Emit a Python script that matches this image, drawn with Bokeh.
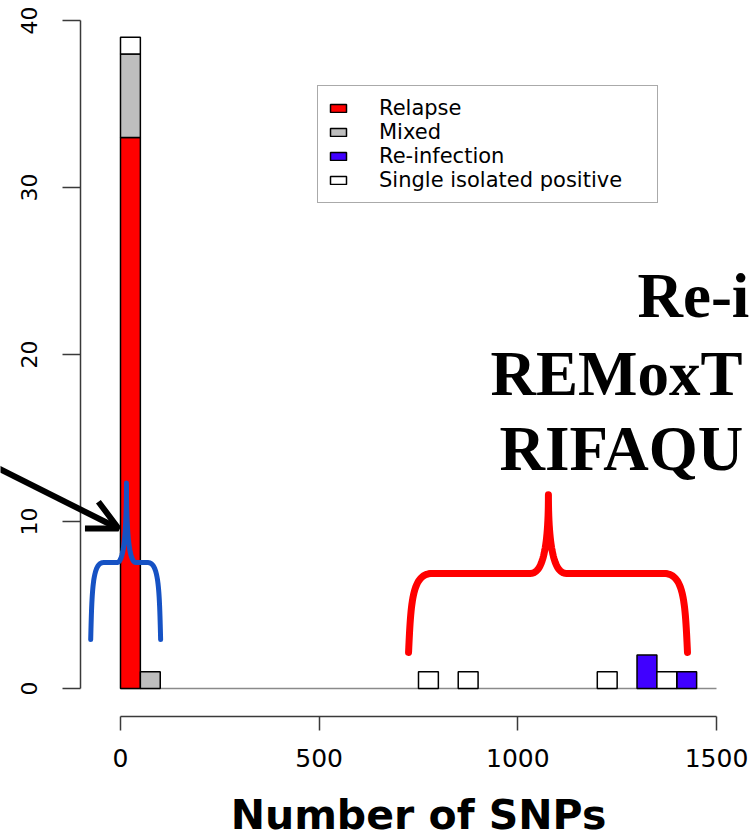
import numpy as np
from bokeh.plotting import figure
from bokeh.models import (Range1d, FixedTicker, Legend, LegendItem, Arrow, OpenHead)
from bokeh.core.properties import value
from bokeh.embed import file_html
from bokeh.resources import INLINE

# SNP-distance histogram, 50-SNP bins, stacked by outcome class
BIN_WIDTH = 50
bin_start = [0, 50, 750, 850, 1200, 1300, 1350, 1400]
relapse = [33, 0, 0, 0, 0, 0, 0, 0]
mixed = [5, 1, 0, 0, 0, 0, 0, 0]
reinfection = [0, 0, 0, 0, 0, 2, 0, 1]
single_positive = [1, 0, 1, 1, 1, 0, 1, 0]

categories = ["Relapse", "Mixed", "Re-infection", "Single isolated positive"]
colors = ["#ff0000", "#bebebe", "#4000ff", "#ffffff"]

x_ticks = [0, 500, 1000, 1500]
y_ticks = [0, 10, 20, 30, 40]
x_title = "Number of SNPs"

annotation_lines = ["Re-i", "REMoxT", "RIFAQU"]

# the frame covers the whole canvas; both axes sit at fixed positions inside it
p = figure(width=750, height=838,
           x_range=Range1d(-302.0, 1585.6), y_range=Range1d(-8.982, 41.198),
           output_backend="svg", toolbar_location=None,
           min_border_left=0, min_border_right=0, min_border_top=0,
           min_border_bottom=0)
p.outline_line_color = None
p.grid.visible = False
p.background_fill_color = "white"
p.border_fill_color = "white"

# baseline along zero
p.line(x=[x_ticks[0], x_ticks[-1]], y=[0, 0], line_color="#8a8a8a", line_width=1.5)

# stacked bars
series = [relapse, mixed, reinfection, single_positive]
centers = np.array(bin_start) + BIN_WIDTH / 2
bottom = np.zeros(len(bin_start))
renderers = []
for name, vals, col in zip(categories, series, colors):
    vals = np.array(vals, dtype=float)
    mask = vals > 0
    r = p.vbar(x=centers[mask], width=BIN_WIDTH, bottom=bottom[mask],
               top=(bottom + vals)[mask], fill_color=col, line_color="black",
               line_width=1.5)
    renderers.append(r)
    bottom = bottom + vals


def cubic(p0, p1, p2, p3, n=30):
    t = np.linspace(0, 1, n)[:, None]
    pts = ((1 - t) ** 3) * np.array(p0) + 3 * ((1 - t) ** 2) * t * np.array(p1) \
        + 3 * (1 - t) * t ** 2 * np.array(p2) + t ** 3 * np.array(p3)
    return pts


def brace(xl, xr, xm, yb, ya, yt, cx, mx):
    drop = ya - yb
    rise = yt - ya
    parts = [
        cubic((xl, yb), (xl + 0.1 * cx, ya - 0.35 * drop), (xl + 0.15 * cx, ya), (xl + cx, ya)),
        cubic((xm - mx, ya), (xm - 0.35 * mx, ya), (xm, ya + 0.3 * rise), (xm, yt)),
        cubic((xm, yt), (xm, ya + 0.3 * rise), (xm + 0.35 * mx, ya), (xm + mx, ya)),
        cubic((xr - cx, ya), (xr - 0.15 * cx, ya), (xr - 0.1 * cx, ya - 0.35 * drop), (xr, yb)),
    ]
    pts = np.vstack(parts)
    return pts[:, 0], pts[:, 1]


# brace over the low-distance bins
bx, by = brace(-75, 101, 15, 2.93, 7.54, 12.3, 32, 24)
p.line(bx, by, line_color="#1652c4", line_width=5, line_cap="round", line_join="round")

# brace over the high-distance bins
rx, ry = brace(725, 1427, 1077, 2.16, 6.89, 11.6, 60, 45)
p.line(rx, ry, line_color="#ff0000", line_width=7, line_cap="round", line_join="round")

p.add_layout(Arrow(end=OpenHead(size=30, line_width=6, line_color="black"),
                   x_start=-330, y_start=13.45, x_end=-5, y_end=9.58,
                   line_width=6, line_color="black"))

p.text(x=[1301, 931, 954], y=[23.5, 18.86, 14.34], text=annotation_lines,
       text_font=value("Liberation Serif"), text_font_style="bold",
       text_font_size="63px", text_color="black",
       text_align="left", text_baseline="middle")

# x-axis title, centred under the tick range
p.text(x=[(x_ticks[0] + x_ticks[-1]) / 2], y=[-7.55], text=[x_title],
       text_font=value("DejaVu Sans"), text_font_style="bold",
       text_font_size="41px", text_color="black",
       text_align="center", text_baseline="middle")

legend = Legend(items=[LegendItem(label=c, renderers=[r]) for c, r in zip(categories, renderers)],
                location=(317, 635), padding=10, spacing=0, margin=0,
                glyph_width=20, glyph_height=10, label_standoff=31,
                label_text_font="DejaVu Sans", label_text_font_size="21px",
                label_text_color="black", label_height=22, label_width=268,
                border_line_color="#555555", border_line_width=1,
                background_fill_color="white", background_fill_alpha=1)
p.add_layout(legend, "center")

xa = p.xaxis[0]
xa.fixed_location = -1.6766
xa.ticker = FixedTicker(ticks=x_ticks)
xa.bounds = (x_ticks[0], x_ticks[-1])
xa.minor_tick_line_color = None
xa.major_tick_out = 14
xa.major_tick_in = 0
xa.axis_line_color = "#3a3a3a"
xa.axis_line_width = 1.5
xa.major_tick_line_color = "#3a3a3a"
xa.major_tick_line_width = 1.5
xa.major_label_text_font = "DejaVu Sans"
xa.major_label_text_font_size = "25px"
xa.major_label_text_color = "black"
xa.major_label_standoff = 18

ya = p.yaxis[0]
ya.fixed_location = -100.67
ya.ticker = FixedTicker(ticks=y_ticks)
ya.bounds = (y_ticks[0], y_ticks[-1])
ya.minor_tick_line_color = None
ya.major_tick_out = 18
ya.major_tick_in = 0
ya.axis_line_color = "#3a3a3a"
ya.axis_line_width = 1.5
ya.major_tick_line_color = "#3a3a3a"
ya.major_tick_line_width = 1.5
ya.major_label_orientation = "vertical"
ya.major_label_text_font = "DejaVu Sans"
ya.major_label_text_font_size = "22px"
ya.major_label_text_color = "black"
ya.major_label_standoff = 25

open("out.html", "w").write(file_html(p, INLINE))
